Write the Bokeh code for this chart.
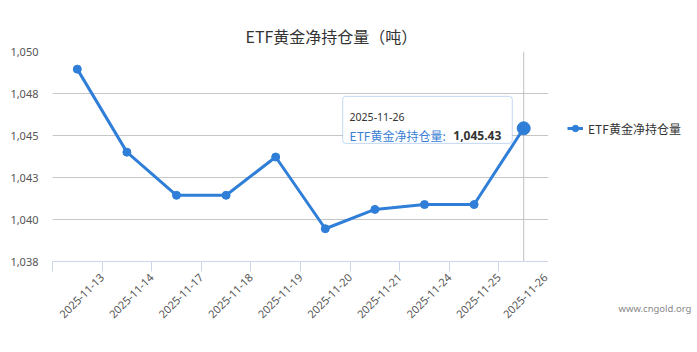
from bokeh.plotting import figure
from bokeh.layouts import row
from bokeh.models import (Range1d, FixedTicker, Legend, LegendItem, Label, BoxAnnotation, Title)
from bokeh.embed import file_html
from bokeh.resources import INLINE

# ---- data ----
dates = ["2025-11-13", "2025-11-14", "2025-11-17", "2025-11-18", "2025-11-19",
         "2025-11-20", "2025-11-21", "2025-11-24", "2025-11-25", "2025-11-26"]
holdings = [1048.95, 1044.01, 1041.44, 1041.44, 1043.72,
            1039.45, 1040.60, 1040.89, 1040.89, 1045.43]
series_name = "ETF黄金净持仓量"
title_text = "ETF黄金净持仓量（吨）"
y_ticks = [1037.5, 1040.0, 1042.5, 1045.0, 1047.5, 1050.0]
y_tick_labels = ["1,038", "1,040", "1,043", "1,045", "1,048", "1,050"]
tooltip_date = dates[-1]
tooltip_value = holdings[-1]
watermark = "www.cngold.org"

FONT = "Noto Sans CJK SC"
BLUE = "#2f7ed8"

n = len(dates)
# category slot centres (category i occupies [i, i+1])
xc = [i + 0.5 for i in range(n)]

p = figure(width=548, height=352, x_range=Range1d(0, n),
           y_range=Range1d(y_ticks[0], y_ticks[-1]),
           output_backend="svg", toolbar_location=None,
           min_border_left=52, min_border_right=0, min_border_top=51, min_border_bottom=86)
p.outline_line_color = None
p.background_fill_color = "white"
p.border_fill_color = "white"
p.xgrid.visible = False

p.title = Title(text=title_text, align="left", offset=193, text_font=FONT,
                text_font_size="16px", text_font_style="normal", text_color="#333333",
                standoff=8)

xa = p.xaxis[0]
xa.ticker = FixedTicker(ticks=list(range(0, n + 1)))
overrides = {0: ""}
for i, d in enumerate(dates):
    overrides[i + 1] = d
xa.major_label_overrides = overrides
xa.major_label_orientation = 0.785398
xa.major_label_text_font = "Noto Sans"
xa.major_label_text_font_size = "11px"
xa.major_label_text_color = "#555555"
xa.major_label_standoff = 4
xa.axis_line_color = "#ccd6eb"
xa.major_tick_line_color = "#ccd6eb"
xa.major_tick_in = 0
xa.major_tick_out = 10
xa.minor_tick_line_color = None

ya = p.yaxis[0]
ya.ticker = FixedTicker(ticks=y_ticks)
ya.major_label_overrides = {t: l for t, l in zip(y_ticks, y_tick_labels)}
ya.axis_line_color = None
ya.major_tick_line_color = None
ya.minor_tick_line_color = None
ya.major_label_text_font = "Noto Sans"
ya.major_label_text_font_size = "11px"
ya.major_label_text_color = "#555555"
ya.major_label_standoff = 8
p.ygrid.grid_line_color = "#c6c6c6"
p.ygrid.ticker = FixedTicker(ticks=y_ticks)

# crosshair at hovered point
p.segment(x0=[xc[-1]], y0=[y_ticks[0]], x1=[xc[-1]], y1=[y_ticks[-1]],
          line_color="#c0c0c0", line_width=1)

p.line(xc, holdings, line_color=BLUE, line_width=3)
p.scatter(xc, holdings, size=8, fill_color=BLUE, line_color=BLUE)
p.scatter([xc[-1]], [tooltip_value], size=13, fill_color=BLUE, line_color=BLUE)

# tooltip
p.add_layout(BoxAnnotation(left=5.85, right=9.27, top=1047.33, bottom=1044.53,
                           fill_color="white", fill_alpha=0.95,
                           line_color="#3a7fd5", line_width=1, border_radius=3))
p.add_layout(Label(x=5.99, y=1046.12, text=tooltip_date,
                   text_font="Noto Sans", text_font_size="10.5px", text_color="#333333",
                   text_baseline="alphabetic"))
p.add_layout(Label(x=5.99, y=1045.02, text=series_name + ":",
                   text_font=FONT, text_font_size="12px", text_color="#3a7fd5",
                   text_baseline="alphabetic"))
p.add_layout(Label(x=8.08, y=1045.02, text=f"{tooltip_value:,.2f}",
                   text_font="Noto Sans", text_font_size="12px", text_color="#333333",
                   text_font_style="bold", text_baseline="alphabetic"))

# ---- side panel: legend + watermark (frame aligned with main frame by the row) ----
# the series is drawn here outside the visible range, only so the legend has its glyph
side = figure(width=149, height=352, x_range=Range1d(-20, -10),
              y_range=Range1d(y_ticks[0], y_ticks[-1]),
              output_backend="svg", toolbar_location=None,
              x_axis_location=None, y_axis_location=None,
              min_border_left=0, min_border_right=0,
              min_border_top=51, min_border_bottom=86)
side.grid.visible = False
side.outline_line_color = None
side.background_fill_color = "white"
side.border_fill_color = "white"

lg_line = side.line(xc, holdings, line_color=BLUE, line_width=3)
lg_pts = side.scatter(xc, holdings, size=8, fill_color=BLUE, line_color=BLUE)
legend = Legend(items=[LegendItem(label=series_name, renderers=[lg_line, lg_pts])],
                location=(19, 123), border_line_color=None, background_fill_alpha=0,
                label_text_font=FONT, label_text_font_size="12px", label_text_color="#333333",
                glyph_width=16, label_standoff=5, padding=0, margin=0)
side.add_layout(legend)

side.add_layout(Title(text=watermark, align="left", offset=70, text_font="Noto Sans",
                      text_font_size="9.5px", text_font_style="normal", text_color="#888888",
                      standoff=76), "below")

layout = row(p, side, spacing=0)
open("out.html", "w").write(file_html(layout, INLINE))
